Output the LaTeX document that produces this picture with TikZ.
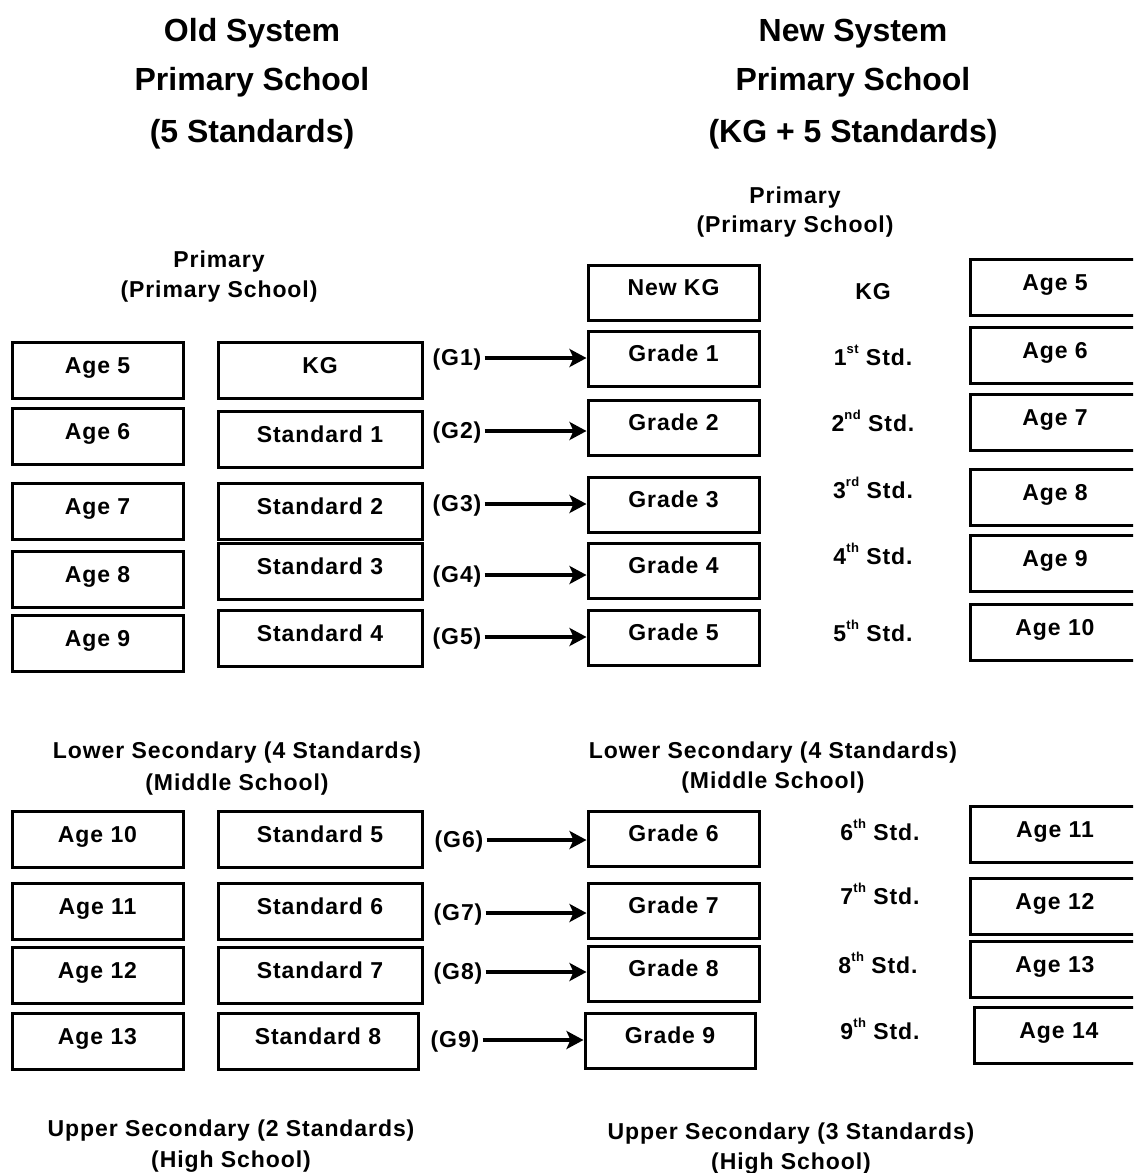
\documentclass[tikz,border=0pt]{standalone}
\usepackage{fontspec}
\setmainfont{Liberation Sans}
\newfontfamily\widefont[LetterSpace=4]{Liberation Sans}
\usetikzlibrary{arrows.meta}
\newcommand\mysups[1]{\raisebox{0.5em}{\fontsize{13}{13}\selectfont #1}}
\tikzset{
  box/.style={draw, line width=3pt, minimum height=56pt, inner sep=0pt,
    text height=16pt, text depth=10pt, font=\fontsize{23}{26}\widefont\bfseries},
  agebox/.style={box, minimum width=171pt},
  stdbox/.style={box, minimum width=204pt},
  lbl/.style={font=\fontsize{23}{26}\widefont\bfseries, inner sep=0pt, anchor=base},
  ttl/.style={font=\fontsize{32}{36}\selectfont\bfseries, inner sep=0pt, anchor=base},
  glbl/.style={font=\fontsize{23}{26}\widefont\bfseries, inner xsep=3pt, inner ysep=0pt,
    text height=16pt, text depth=2pt},
  arr/.style={line width=4.5pt, -{Stealth[length=17pt,width=18pt,inset=4pt]}},
}
\begin{document}
\begin{tikzpicture}[x=1pt,y=-1pt]
\useasboundingbox (0,0) rectangle (1133,1173);
\clip (0,0) rectangle (1133,1173);
% titles
\node[ttl] (t1) at (252,41) {Old System};
\node[ttl] (t2) at (252,90) {Primary School};
\node[ttl] (t3) at (252,142) {(5 Standards)};
\node[ttl] (t4) at (853,41) {New System};
\node[ttl] (t5) at (853,90) {Primary School};
\node[ttl] (t6) at (853,142) {(KG + 5 Standards)};
% section labels
\node[lbl] (p1) at (219,267) {Primary};
\node[lbl] (p2) at (219,297) {(Primary School)};
\node[lbl] (p3) at (795,203) {Primary};
\node[lbl] (p4) at (795,232) {(Primary School)};
\node[lbl] (m1) at (237,758) {Lower Secondary (4 Standards)};
\node[lbl] (m2) at (237,790) {(Middle School)};
\node[lbl] (m3) at (773,758) {Lower Secondary (4 Standards)};
\node[lbl] (m4) at (773,788) {(Middle School)};
\node[lbl] (h1) at (231,1136) {Upper Secondary (2 Standards)};
\node[lbl] (h2) at (231,1167) {(High School)};
\node[lbl] (h3) at (791,1139) {Upper Secondary (3 Standards)};
\node[lbl] (h4) at (791,1169) {(High School)};
% left age boxes
\node[agebox] (la5) at (97.5,370) {Age 5};
\node[agebox] (la6) at (97.5,436) {Age 6};
\node[agebox] (la7) at (97.5,511) {Age 7};
\node[agebox] (la8) at (97.5,579.5) {Age 8};
\node[agebox] (la9) at (97.5,643) {Age 9};
\node[agebox] (la10) at (97.5,839) {Age 10};
\node[agebox] (la11) at (97.5,911) {Age 11};
\node[agebox] (la12) at (97.5,975) {Age 12};
\node[agebox] (la13) at (97.5,1041) {Age 13};
% standard boxes
\node[stdbox] (s0) at (320,370) {KG};
\node[stdbox] (s1) at (320,439) {Standard 1};
\node[stdbox] (s2) at (320,511) {Standard 2};
\node[stdbox] (s3) at (320,571) {Standard 3};
\node[stdbox] (s4) at (320,638) {Standard 4};
\node[stdbox] (s5) at (320,839) {Standard 5};
\node[stdbox] (s6) at (320,911) {Standard 6};
\node[stdbox] (s7) at (320,975) {Standard 7};
\node[stdbox, minimum width=200pt] (s8) at (318,1041) {Standard 8};
% grade boxes
\node[agebox, minimum height=55pt] (g0) at (673.5,292.5) {New KG};
\node[agebox, minimum height=55pt] (g1) at (673.5,358.5) {Grade 1};
\node[agebox, minimum height=55pt] (g2) at (673.5,427.5) {Grade 2};
\node[agebox, minimum height=55pt] (g3) at (673.5,504.5) {Grade 3};
\node[agebox, minimum height=55pt] (g4) at (673.5,570.5) {Grade 4};
\node[agebox, minimum height=55pt] (g5) at (673.5,637.5) {Grade 5};
\node[agebox, minimum height=55pt] (g6) at (673.5,838.5) {Grade 6};
\node[agebox, minimum height=55pt] (g7) at (673.5,910.5) {Grade 7};
\node[agebox, minimum height=55pt] (g8) at (673.5,973.5) {Grade 8};
\node[agebox, minimum height=55pt, minimum width=170pt] (g9) at (670,1040.5) {Grade 9};
% std labels
\node[lbl] (k0) at (873,299) {KG};
\node[lbl] (k1) at (873,365) {1\mysups{st} Std.};
\node[lbl] (k2) at (873,431) {2\mysups{nd} Std.};
\node[lbl] (k3) at (873,498) {3\mysups{rd} Std.};
\node[lbl] (k4) at (873,564) {4\mysups{th} Std.};
\node[lbl] (k5) at (873,641) {5\mysups{th} Std.};
\node[lbl] (k6) at (880,840) {6\mysups{th} Std.};
\node[lbl] (k7) at (880,904) {7\mysups{th} Std.};
\node[lbl] (k8) at (878,973) {8\mysups{th} Std.};
\node[lbl] (k9) at (880,1039) {9\mysups{th} Std.};
% right age boxes
\node[agebox, minimum width=170pt] (ra5) at (1055,287) {Age 5};
\node[agebox, minimum width=170pt] (ra6) at (1055,355) {Age 6};
\node[agebox, minimum width=170pt] (ra7) at (1055,422) {Age 7};
\node[agebox, minimum width=170pt] (ra8) at (1055,497) {Age 8};
\node[agebox, minimum width=170pt] (ra9) at (1055,563) {Age 9};
\node[agebox, minimum width=170pt] (ra10) at (1055,632) {Age 10};
\node[agebox, minimum width=170pt] (ra11) at (1055,834) {Age 11};
\node[agebox, minimum width=170pt] (ra12) at (1055,906) {Age 12};
\node[agebox, minimum width=170pt] (ra13) at (1055,969) {Age 13};
\node[agebox, minimum width=170pt] (ra14) at (1059,1035) {Age 14};
% G labels and arrows
\node[glbl] (l1) at (457,358) {(G1)};
\node[glbl] (l2) at (457,431) {(G2)};
\node[glbl] (l3) at (457,504) {(G3)};
\node[glbl] (l4) at (457,575) {(G4)};
\node[glbl] (l5) at (457,637) {(G5)};
\node[glbl] (l6) at (459,840) {(G6)};
\node[glbl] (l7) at (458,913) {(G7)};
\node[glbl] (l8) at (458,972) {(G8)};
\node[glbl] (l9) at (455,1040) {(G9)};
\draw[arr] (l1.east) -- (l1.east -| g1.west);
\draw[arr] (l2.east) -- (l2.east -| g2.west);
\draw[arr] (l3.east) -- (l3.east -| g3.west);
\draw[arr] (l4.east) -- (l4.east -| g4.west);
\draw[arr] (l5.east) -- (l5.east -| g5.west);
\draw[arr] (l6.east) -- (l6.east -| g6.west);
\draw[arr] (l7.east) -- (l7.east -| g7.west);
\draw[arr] (l8.east) -- (l8.east -| g8.west);
\draw[arr] (l9.east) -- (l9.east -| g9.west);
\end{tikzpicture}
\end{document}
